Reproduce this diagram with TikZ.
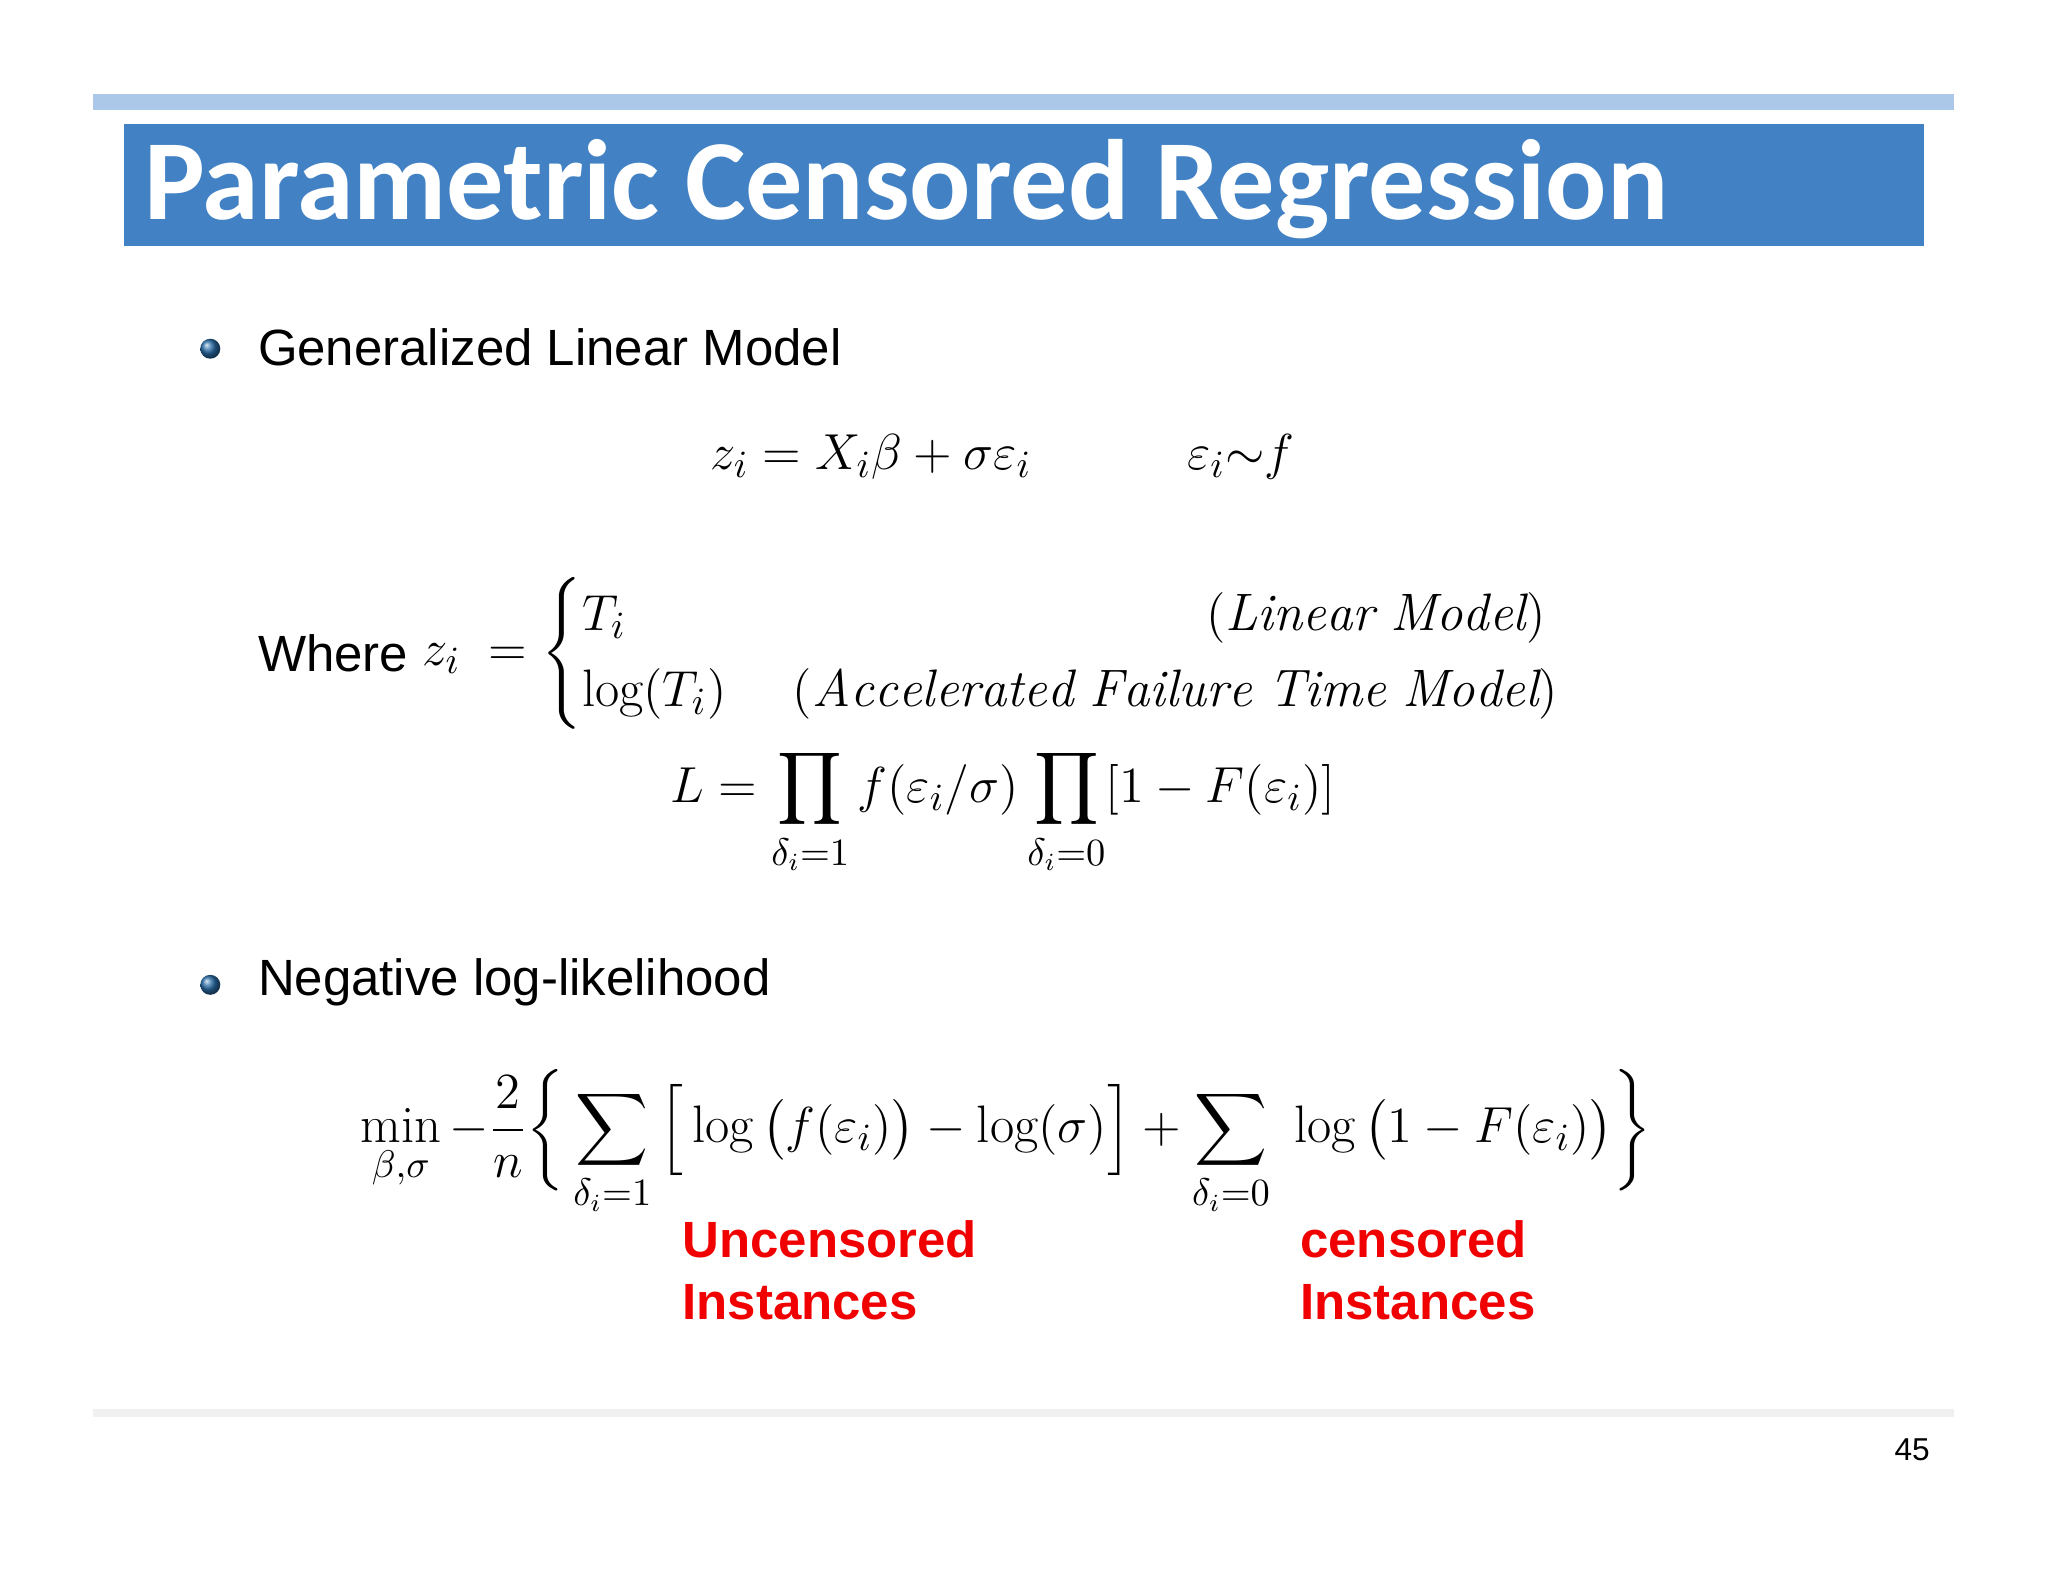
\documentclass[tikz,border=0pt]{standalone}
\usepackage{amsmath}
\usepackage{fontspec}
\newfontfamily\titlefont{Carlito}
\newfontfamily\arialfont{Liberation Sans}
\definecolor{barblue}{HTML}{4282C4}
\definecolor{lightbar}{HTML}{ABC8E8}
\definecolor{redlab}{HTML}{F00000}
\definecolor{bulletblue}{HTML}{2A6EA8}
\begin{document}
\begin{tikzpicture}[x=0.01306cm,y=-0.01306cm,
  body/.style={anchor=west,font=\arialfont\fontsize{14.5}{17}\selectfont,inner sep=0pt},
  eq/.style={font=\fontsize{15}{18}\selectfont,inner sep=0pt},
  redl/.style={anchor=north west,align=left,text=redlab,font=\arialfont\bfseries\fontsize{14.5}{17.5}\selectfont,inner sep=0pt},
  bul/.style={circle,inner sep=0pt,minimum size=0.2cm,ball color=bulletblue}]
\useasboundingbox (0,0) rectangle (1568,1211);
\fill[white] (0,0) rectangle (1568,1211);
\fill[lightbar] (71,72) rectangle (1496,84);
\fill[barblue] (95,95) rectangle (1473,188);
\node[anchor=west,text=white,inner sep=0pt,font=\titlefont\bfseries\fontsize{32.5}{38}\selectfont] (title) at (110,145) {Parametric Censored Regression};
\node[bul] (b1) at (161,267) {};
\node[body] (t1) at (197,266) {Generalized Linear Model};
\node[eq] (e1) at (667,350) {$z_i = X_i\beta + \sigma\varepsilon_i$};
\node[eq] (e2) at (950,350) {$\varepsilon_i{\sim}f$};
\node[body] (where) at (197,500) {Where};
\node[eq,anchor=west] (cases) at (323,500) {$z_i \;=\begin{cases} T_i & \hspace{8.1em}(\mathit{Linear\ Model})\\ \log(T_i) & \;(\mathit{Accelerated\ Failure\ Time\ Model})\end{cases}$};
\node[eq] (L) at (768,622) {$L = \displaystyle\prod_{\delta_i=1} f(\varepsilon_i/\sigma)\prod_{\delta_i=0}[1-F(\varepsilon_i)]$};
\node[bul] (b2) at (161,754) {};
\node[body] (t2) at (197,752) {Negative log-likelihood};
\node[eq] (nll) at (770,875) {$\displaystyle\min_{\beta,\sigma} -\frac{2}{n}\bigg\{\sum_{\delta_i=1}\Big[\log\big(f(\varepsilon_i)\big)-\log(\sigma)\Big]+\sum_{\delta_i=0}\ \log\big(1-F(\varepsilon_i)\big)\bigg\}$};
\node[redl] (u) at (522,934) {Uncensored\\Instances};
\node[redl] (c) at (995,934) {censored\\Instances};
\fill[black!6] (71,1079) rectangle (1496,1085);
\node[anchor=east,inner sep=0pt,font=\arialfont\fontsize{9}{11}\selectfont] (pg) at (1478,1110) {45};
\end{tikzpicture}
\end{document}
